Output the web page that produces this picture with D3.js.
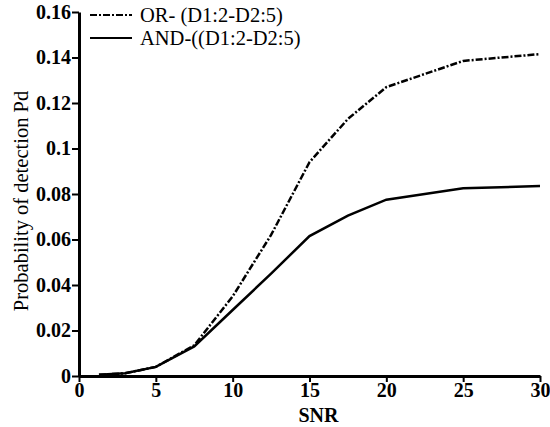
<!DOCTYPE html>
<html>
<head>
<meta charset="utf-8">
<script src="https://cdn.jsdelivr.net/npm/d3@7"></script>
<style>
  body { margin: 0; background: #fff; }
</style>
</head>
<body>
<div id="chart-container"></div>
<script>
// data
const snr = [1.3, 3, 5, 7.5, 10, 12.5, 15, 17.5, 20, 25, 30];
const orPd = [0.0005, 0.0012, 0.004, 0.0135, 0.035, 0.062, 0.094, 0.113, 0.127, 0.1385, 0.1415];
const andPd = [0.0005, 0.0012, 0.004, 0.013, 0.029, 0.045, 0.0615, 0.0705, 0.0775, 0.0825, 0.0835];
const xTicks = [0, 5, 10, 15, 20, 25, 30];
const yTicks = [0, 0.02, 0.04, 0.06, 0.08, 0.1, 0.12, 0.14, 0.16];
const seriesNames = ["OR- (D1:2-D2:5)", "AND-((D1:2-D2:5)"];

const margin = { top: 12, right: 10, bottom: 51, left: 79 };
const width = 550 - margin.left - margin.right;
const height = 427 - margin.top - margin.bottom;

const x = d3.scaleLinear().domain([0, 30]).range([0, width]);
const y = d3.scaleLinear().domain([0, 0.16]).range([height, 0]);

const svg = d3.select("#chart-container")
  .append("svg")
    .attr("width", width + margin.left + margin.right)
    .attr("height", height + margin.top + margin.bottom)
  .append("g")
    .attr("transform", `translate(${margin.left},${margin.top})`);

// text style helper
function serif(sel, weight) {
  return sel.style("font-family", '"Liberation Serif"')
    .style("font-size", "20px")
    .style("font-weight", weight || "bold")
    .attr("fill", "#000");
}

// x axis
const xAxis = svg.append("g")
  .attr("transform", `translate(0,${height})`)
  .call(d3.axisBottom(x).tickValues(xTicks).tickSize(6).tickSizeOuter(0).tickPadding(1));

// y axis
const yAxis = svg.append("g")
  .call(d3.axisLeft(y).tickValues(yTicks).tickSize(7).tickSizeOuter(0).tickPadding(1)
    .tickFormat(d => d === 0 ? "0" : String(+d.toFixed(2))));

[xAxis, yAxis].forEach(a => {
  a.select(".domain").attr("stroke", "#000").attr("stroke-width", 3);
  a.selectAll(".tick line").attr("stroke", "#000").attr("stroke-width", 2);
  serif(a.selectAll(".tick text"));
});

// axis titles
serif(svg.append("text")
  .attr("x", width / 2 + 9)
  .attr("y", height + 46)
  .attr("text-anchor", "middle"))
  .text("SNR");

serif(svg.append("text")
  .attr("transform", `translate(${-51},${height / 2 + 7}) rotate(-90)`)
  .attr("text-anchor", "middle"), "normal")
  .style("font-size", "20.5px")
  .text("Probability of detection Pd");

// lines
const line = d3.line()
  .x(d => x(d[0]))
  .y(d => y(d[1]));

const dashes = ["7,2,2,2", null];

[orPd, andPd].forEach((vals, i) => {
  svg.append("path")
    .datum(snr.map((s, j) => [s, vals[j]]))
    .attr("fill", "none")
    .attr("stroke", "#000")
    .attr("stroke-width", 2.5)
    .attr("stroke-dasharray", dashes[i])
    .attr("d", line);
});

// legend
const legend = svg.append("g").attr("transform", "translate(11,3)");
seriesNames.forEach((name, i) => {
  const row = legend.append("g").attr("transform", `translate(0,${i * 23})`);
  row.append("line")
    .attr("x1", 0).attr("x2", 42)
    .attr("stroke", "#000")
    .attr("stroke-width", 2)
    .attr("stroke-dasharray", dashes[i]);
  serif(row.append("text")
    .attr("x", 50)
    .attr("y", 7), "normal")
    .style("font-size", "20.5px")
    .text(name);
});
</script>
</body>
</html>
